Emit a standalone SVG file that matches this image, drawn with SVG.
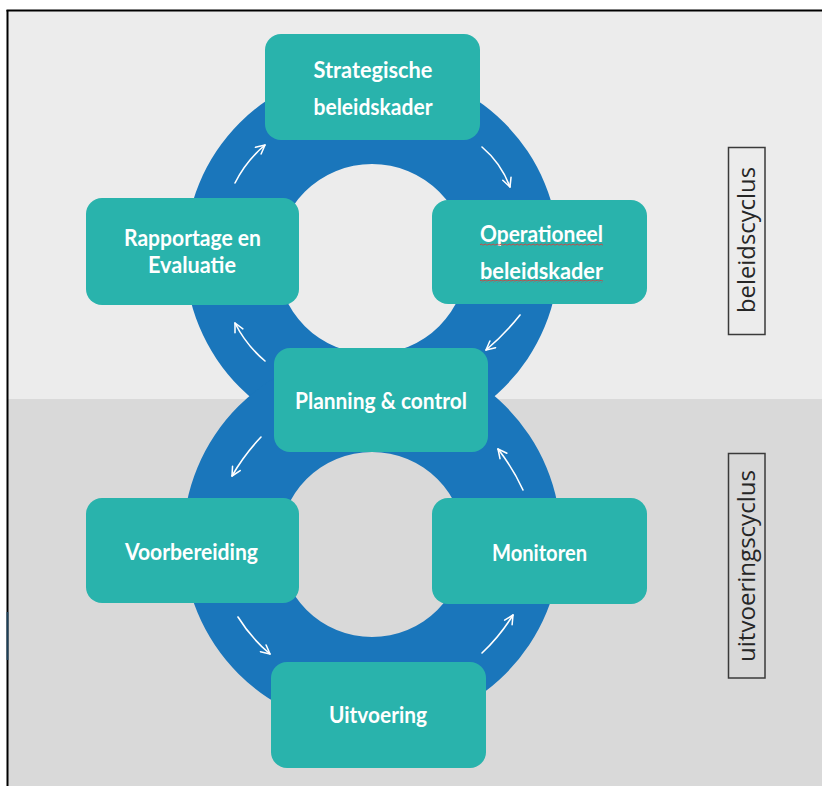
<svg xmlns="http://www.w3.org/2000/svg" width="822" height="786" viewBox="0 0 822 786">
<style>
.box{fill:#29b3ac}
.lbl{font-family:Lato,"Open Sans","Liberation Sans",sans-serif;font-weight:700;font-size:22.5px;fill:#ffffff;text-anchor:middle}
.ring{fill:#1a76bb;fill-rule:evenodd}
.arr{fill:none;stroke:#ffffff;stroke-width:1.6;stroke-linecap:round;marker-end:url(#ah)}
.side{fill:none;stroke:#3a3a3a;stroke-width:1.5}
.stxt{font-family:"Open Sans","Liberation Sans",sans-serif;font-size:24px;fill:#262626;text-anchor:middle}
</style>
<defs>
<marker id="ah" viewBox="0 0 10 10" refX="9" refY="5" markerWidth="11" markerHeight="11" markerUnits="userSpaceOnUse" orient="auto">
<path d="M1,1 L9,5 L1,9" fill="none" stroke="#ffffff" stroke-width="1.4" stroke-linecap="round" stroke-linejoin="round"/>
</marker>
<pattern id="wave" x="0" y="0" width="4" height="3" patternUnits="userSpaceOnUse">
<path d="M0,2 Q1,0 2,1.5 T4,1.5" fill="none" stroke="#d0423f" stroke-width="0.9"/>
</pattern>
</defs>

<!-- background -->
<rect x="0" y="0" width="822" height="786" fill="#ffffff"/>
<rect x="8" y="11" width="814" height="388" fill="#ececec"/>
<rect x="8" y="399" width="814" height="387" fill="#d9d9d9"/>
<line x1="6.5" y1="10.5" x2="822" y2="10.5" stroke="#000" stroke-width="2"/>
<line x1="7.5" y1="10" x2="7.5" y2="786" stroke="#000" stroke-width="2"/>
<line x1="7.5" y1="612" x2="7.5" y2="660" stroke="#24506f" stroke-width="2" opacity="0.8"/>

<!-- rings -->
<g id="rings">
<path class="ring" d="M185,255 a187,187 0 1,0 374,0 a187,187 0 1,0 -374,0 Z M277,259 a95,95 0 1,1 190,0 a95,95 0 1,1 -190,0 Z"/>
<path class="ring" d="M183,540 a189,189 0 1,0 378,0 a189,189 0 1,0 -378,0 Z M279.5,544.5 a92.5,92.5 0 1,1 185,0 a92.5,92.5 0 1,1 -185,0 Z"/>
</g>

<!-- connectors -->
<g id="connectors">
<path class="arr" d="M235,183 Q246,161 265,145"/>
<path class="arr" d="M482,147 Q501,163 510,187"/>
<path class="arr" d="M520,315 Q505,334 486,350"/>
<path class="arr" d="M265,361 Q246,345 235,323"/>
<path class="arr" d="M261,437 Q244,455 232,476"/>
<path class="arr" d="M523,490 Q513,468 498,449"/>
<path class="arr" d="M238,617 Q251,638 270,654"/>
<path class="arr" d="M482,653 Q500,636 513,615"/>
</g>

<!-- nodes -->
<g id="strategische">
<rect class="box" x="265" y="34" width="215" height="106" rx="16"/>
<text class="lbl" x="373" y="78" textLength="119" lengthAdjust="spacingAndGlyphs">Strategische</text>
<text class="lbl" x="373" y="115" textLength="119" lengthAdjust="spacingAndGlyphs">beleidskader</text>
</g>
<g id="rapportage">
<rect class="box" x="86" y="198" width="213" height="107" rx="16"/>
<text class="lbl" x="192.5" y="246" textLength="137" lengthAdjust="spacingAndGlyphs">Rapportage en</text>
<text class="lbl" x="192" y="273" textLength="88" lengthAdjust="spacingAndGlyphs">Evaluatie</text>
</g>
<g id="operationeel">
<rect class="box" x="432" y="200" width="215" height="104" rx="16"/>
<text class="lbl" x="541.5" y="242" textLength="123" lengthAdjust="spacingAndGlyphs">Operationeel</text>
<text class="lbl" x="541.5" y="279" textLength="123" lengthAdjust="spacingAndGlyphs">beleidskader</text>
<rect x="480" y="243" width="123" height="3" fill="url(#wave)"/>
<rect x="480" y="280" width="123" height="3" fill="url(#wave)"/>
</g>
<g id="planning">
<rect class="box" x="274" y="348" width="214" height="104" rx="16"/>
<text class="lbl" x="381" y="409" textLength="172" lengthAdjust="spacingAndGlyphs">Planning &amp; control</text>
</g>
<g id="voorbereiding">
<rect class="box" x="86" y="498" width="213" height="105" rx="16"/>
<text class="lbl" x="191.5" y="560" textLength="133" lengthAdjust="spacingAndGlyphs">Voorbereiding</text>
</g>
<g id="monitoren">
<rect class="box" x="432" y="498" width="215" height="106" rx="16"/>
<text class="lbl" x="539.5" y="561" textLength="95" lengthAdjust="spacingAndGlyphs">Monitoren</text>
</g>
<g id="uitvoering">
<rect class="box" x="271" y="662" width="215" height="106" rx="16"/>
<text class="lbl" x="378" y="723" textLength="98" lengthAdjust="spacingAndGlyphs">Uitvoering</text>
</g>

<!-- side labels -->
<g id="beleidscyclus">
<rect class="side" x="728.5" y="147.5" width="36.5" height="187"/>
<text class="stxt" transform="translate(755,240) rotate(-90)" textLength="146" lengthAdjust="spacingAndGlyphs">beleidscyclus</text>
</g>
<g id="uitvoeringscyclus">
<rect class="side" x="728.5" y="453.5" width="36.5" height="224.5"/>
<text class="stxt" transform="translate(755,566) rotate(-90)" textLength="192" lengthAdjust="spacingAndGlyphs">uitvoeringscyclus</text>
</g>
</svg>
